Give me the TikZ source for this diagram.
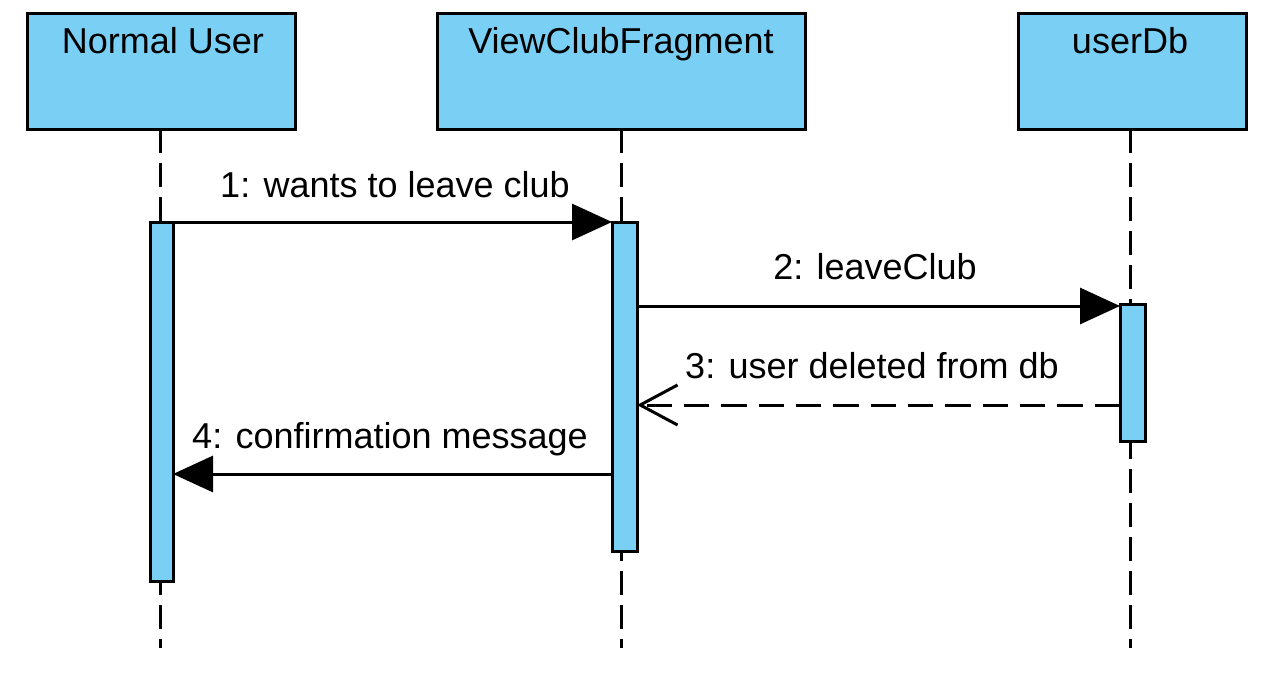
\documentclass[tikz,border=0pt]{standalone}
\usepackage{fontspec}
\setmainfont{Liberation Sans}
\usetikzlibrary{arrows.meta}
\definecolor{umlblue}{RGB}{122,207,245}
\begin{document}
\begin{tikzpicture}[x=0.75pt,y=-0.75pt,
  actor/.style={draw=black, fill=umlblue, line width=2.25pt, inner sep=0pt},
  act/.style={draw=black, fill=umlblue, line width=2.25pt, inner sep=0pt, outer sep=0pt},
  life/.style={line width=2.25pt, dash pattern=on 18pt off 7.5pt},
  txt/.style={font=\fontsize{27pt}{31pt}\selectfont, anchor=base, inner sep=0pt},
  msg/.style={line width=2.25pt, -{Triangle[length=30pt,width=27pt]}},
  ret/.style={line width=2.25pt, dash pattern=on 19pt off 9pt, -{Straight Barb[length=28pt,width=30pt,line width=2.25pt]}}
]
\useasboundingbox (0,0) rectangle (1267,692);
\fill[white] (0,0) rectangle (1267,692);
% actor boxes
\node[actor, minimum width=201pt, minimum height=86.25pt] (bu) at (161,71.5) {};
\node[actor, minimum width=276pt, minimum height=86.25pt] (bv) at (621,71.5) {};
\node[actor, minimum width=171pt, minimum height=86.25pt] (bd) at (1132,71.5) {};
\node[txt] (tu) at (163,54) {Normal User};
\node[txt] (tv) at (621,54) {ViewClubFragment};
\node[txt] (td) at (1130,54) {userDb};
% lifelines
\coordinate (su) at (160,129);
\coordinate (sv) at (621,129);
\coordinate (sd) at (1130,129);
\coordinate (eu) at (160,648);
\coordinate (ev) at (621,648);
\coordinate (ed) at (1130,648);
\draw[life] (su) -- (eu);
\draw[life] (sv) -- (ev);
\draw[life] (sd) -- (ed);
% activations
\node[act, minimum width=17.25pt, minimum height=269.25pt] (a1) at (161.5,401.5) {};
\node[act, minimum width=18.75pt, minimum height=246.75pt] (a2) at (624.5,386.5) {};
\node[act, minimum width=18.75pt, minimum height=102.75pt] (a3) at (1132.5,372.5) {};
% messages
\draw[msg] (a1.east |- 0,222) -- (a2.west |- 0,222);
\node[txt] (l1) at (395,197) {1: wants to leave club};
\draw[msg] (a2.east |- 0,306) -- (a3.west |- 0,306);
\node[txt] (l2) at (875,279) {2: leaveClub};
\draw[ret] (a3.west |- 0,405) -- (a2.east |- 0,405);
\node[txt] (l3) at (872,378) {3: user deleted from db};
\draw[msg] (a2.west |- 0,474) -- (a1.east |- 0,474);
\node[txt] (l4) at (390,448) {4: confirmation message};
\end{tikzpicture}
\end{document}
